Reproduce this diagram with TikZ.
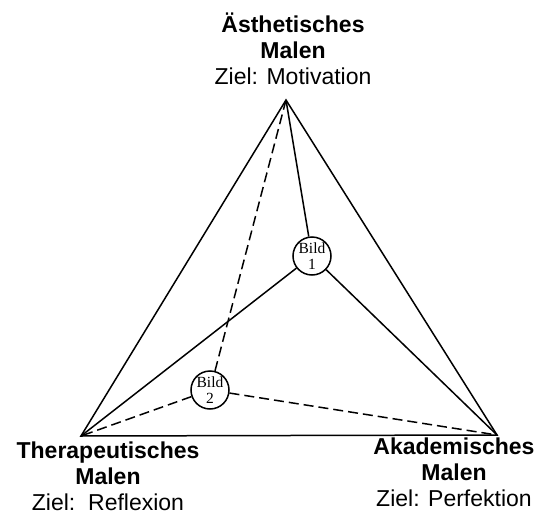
\documentclass[tikz,border=0pt]{standalone}
\usepackage{fontspec}
\setmainfont{Liberation Sans}
\newfontfamily\bildfont{Liberation Serif}

\begin{document}
\begin{tikzpicture}[x=1pt, y=-1pt,
    edge/.style={line width=1.5pt},
    dashedge/.style={line width=1.5pt, dash pattern=on 10pt off 5pt},
    bild/.style={circle, draw, line width=1.5pt, fill=white, minimum size=38pt, inner sep=0pt, align=center, font=\bildfont\fontsize{15.5}{16}\selectfont},
    corner/.style={align=center, inner sep=0pt, anchor=north, font=\fontsize{23}{26}\selectfont}]
    \useasboundingbox (0,0) rectangle (542,517);

    % Ecken
    \coordinate (aest) at (286,100);
    \coordinate (ther) at (81,436);
    \coordinate (akad) at (497,435);

    % Beschriftungen
    \node[corner] (aestlabel) at (293,13) {\textbf{Ästhetisches}\\\textbf{Malen}\\Ziel: Motivation};
    \node[corner] (therlabel) at (108,442) {\textbf{Therapeutisches}\\\textbf{Malen}\\Ziel:\ \ Reflexion};
    \node[corner] (akadlabel) at (454,438) {\textbf{Akademisches}\\\textbf{Malen}\\Ziel: Perfektion};

    % Dreieck
    \draw[edge] (aest) -- (ther) -- (akad) -- cycle;

    % Bild 1
    \node[bild] (bild1) at (312,256) {Bild\\1};
    \draw[edge] (aest) -- (bild1);
    \draw[edge] (bild1) -- (ther);
    \draw[edge] (bild1) -- (akad);

    % Bild 2
    \node[bild] (bild2) at (210,390) {Bild\\2};
    \draw[dashedge] (aest) -- (bild2);
    \draw[dashedge] (bild2) -- (ther);
    \draw[dashedge] (bild2) -- (akad);
\end{tikzpicture}
\end{document}
